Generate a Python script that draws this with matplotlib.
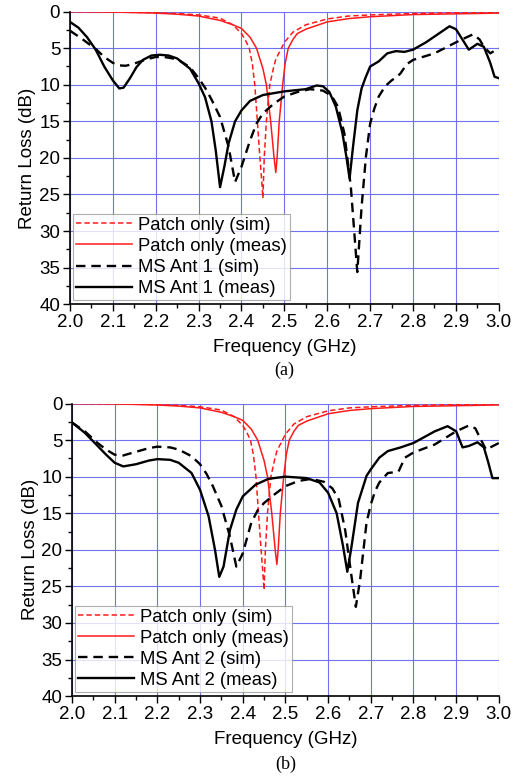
import numpy as np
import matplotlib
matplotlib.use("Agg")
import matplotlib.pyplot as plt
from matplotlib.ticker import MultipleLocator

plt.rcParams["font.family"] = ["Liberation Sans", "DejaVu Sans"]

# Patch only (same in both panels)
patch_sim_f = [2.0, 2.1, 2.2, 2.25, 2.3, 2.33, 2.35, 2.38, 2.40, 2.41, 2.418, 2.425, 2.431,
               2.437, 2.443, 2.447, 2.45, 2.453, 2.458, 2.466, 2.475, 2.48, 2.493, 2.50,
               2.52, 2.55, 2.6, 2.65, 2.7, 2.8, 2.9, 3.0]
patch_sim_rl = [0.0, 0.05, 0.15, 0.25, 0.45, 0.7, 0.9, 1.8, 3.0, 4.0, 5.0, 7.0, 10.0,
                15.0, 20.0, 23.0, 25.5, 20.0, 15.0, 10.0, 7.6, 6.5, 5.0, 4.2,
                2.8, 1.8, 1.0, 0.6, 0.45, 0.25, 0.15, 0.1]
patch_meas_f = [2.0, 2.1, 2.2, 2.25, 2.3, 2.35, 2.38, 2.40, 2.42, 2.435, 2.45, 2.458, 2.468,
                2.476, 2.48, 2.483, 2.488, 2.496, 2.502, 2.509, 2.52, 2.53, 2.55, 2.6,
                2.65, 2.7, 2.75, 2.8, 2.9, 3.0]
patch_meas_rl = [0.0, 0.05, 0.2, 0.35, 0.6, 1.2, 1.8, 2.3, 3.5, 5.0, 7.8, 10.0, 15.0,
                 20.0, 22.0, 20.0, 15.0, 10.0, 7.0, 5.0, 3.8, 3.0, 2.4, 1.4,
                 0.95, 0.7, 0.55, 0.4, 0.3, 0.2]

# MS Ant 1 (panel a)
ant1_sim_f = [2.0, 2.03, 2.062, 2.08, 2.1, 2.115, 2.13, 2.145, 2.16, 2.18, 2.2, 2.22, 2.25,
              2.28, 2.3, 2.315, 2.33, 2.35, 2.37, 2.385, 2.4, 2.42, 2.435, 2.45, 2.475,
              2.5, 2.53, 2.56, 2.59, 2.61, 2.625, 2.64, 2.655, 2.67, 2.68, 2.69, 2.7,
              2.71, 2.72, 2.735, 2.75, 2.76, 2.77, 2.785, 2.8, 2.85, 2.9, 2.925, 2.94,
              2.955, 2.965, 2.98, 3.0]
ant1_sim_rl = [2.6, 3.8, 5.2, 6.2, 7.0, 7.35, 7.4, 7.2, 6.9, 6.5, 6.2, 6.2, 6.5,
               7.6, 9.1, 10.4, 12.0, 14.4, 18.5, 23.3, 21.2, 17.6, 15.3, 13.9, 12.6,
               11.6, 11.0, 10.6, 10.8, 11.5, 13.0, 16.7, 24.0, 35.6, 26.7, 19.9, 15.3,
               13.2, 11.6, 10.2, 9.4, 9.0, 8.5, 7.2, 6.6, 5.7, 4.2, 3.5, 3.1,
               3.8, 4.8, 5.7, 5.0]
ant1_meas_f = [2.0, 2.02, 2.04, 2.06, 2.08, 2.1, 2.115, 2.125, 2.14, 2.155, 2.17, 2.19,
               2.21, 2.23, 2.25, 2.28, 2.3, 2.315, 2.33, 2.34, 2.35, 2.36, 2.37, 2.385,
               2.4, 2.42, 2.45, 2.5, 2.55, 2.575, 2.59, 2.605, 2.62, 2.635, 2.645, 2.652,
               2.66, 2.67, 2.68, 2.69, 2.7, 2.72, 2.74, 2.76, 2.78, 2.8, 2.83, 2.86, 2.885,
               2.9, 2.915, 2.93, 2.95, 2.965, 2.98, 2.99, 3.0]
ant1_meas_rl = [1.4, 2.2, 3.5, 5.2, 7.5, 9.4, 10.5, 10.4, 9.1, 7.6, 6.6, 6.0,
                5.9, 6.0, 6.4, 7.8, 9.8, 11.7, 15.0, 19.0, 24.0, 21.2, 18.0, 15.0,
                13.5, 12.2, 11.4, 10.9, 10.6, 10.1, 10.2, 11.0, 13.0, 16.5, 20.0, 22.8,
                18.5, 13.5, 10.5, 8.9, 7.5, 6.8, 5.7, 5.4, 5.5, 5.2, 4.2, 3.0, 2.0,
                2.4, 3.8, 5.2, 4.4, 4.8, 7.0, 8.9, 9.1]

# MS Ant 2 (panel b)
ant2_sim_f = [2.0, 2.03, 2.06, 2.08, 2.1, 2.12, 2.15, 2.18, 2.2, 2.23, 2.25, 2.28, 2.3,
              2.315, 2.33, 2.35, 2.37, 2.385, 2.4, 2.42, 2.435, 2.45, 2.475, 2.5, 2.53,
              2.56, 2.59, 2.61, 2.625, 2.64, 2.655, 2.665, 2.675, 2.69, 2.7, 2.71, 2.72,
              2.74, 2.755, 2.765, 2.78, 2.8, 2.85, 2.9, 2.93, 2.945, 2.955, 2.97, 3.0]
ant2_sim_rl = [2.6, 3.8, 5.4, 6.3, 7.0, 7.1, 6.6, 6.1, 5.9, 6.0, 6.3, 7.2, 8.3,
               9.6, 11.3, 14.0, 18.2, 22.3, 20.5, 16.3, 14.6, 13.6, 12.4, 11.3, 10.6,
               10.3, 10.7, 11.6, 13.1, 17.3, 23.7, 27.8, 24.1, 16.3, 13.8, 12.0, 10.8,
               9.5, 9.4, 9.3, 7.4, 6.7, 5.6, 3.8, 3.0, 3.4, 4.6, 6.3, 5.4]
ant2_meas_f = [2.0, 2.03, 2.06, 2.08, 2.1, 2.12, 2.15, 2.18, 2.2, 2.23, 2.25, 2.28, 2.3,
               2.32, 2.335, 2.345, 2.355, 2.37, 2.385, 2.4, 2.43, 2.46, 2.5, 2.55, 2.58,
               2.6, 2.62, 2.635, 2.645, 2.655, 2.67, 2.69, 2.7, 2.72, 2.74, 2.77, 2.8,
               2.85, 2.88, 2.9, 2.915, 2.93, 2.95, 2.965, 2.975, 2.985, 3.0]
ant2_meas_rl = [2.6, 4.0, 5.8, 7.0, 8.1, 8.6, 8.3, 7.8, 7.6, 7.7, 8.1, 9.5, 11.8,
                15.4, 20.0, 23.7, 22.3, 17.3, 14.5, 12.7, 11.1, 10.3, 10.0, 10.2, 10.8,
                12.2, 15.0, 19.5, 23.0, 19.5, 13.6, 9.9, 9.0, 7.4, 6.5, 6.0, 5.4,
                3.8, 3.1, 3.8, 6.0, 5.8, 5.3, 6.0, 8.0, 10.2, 10.2]

fig = plt.figure(figsize=(5.18, 7.76), dpi=100)
ax_a = fig.add_axes([0.135, 0.608, 0.828, 0.377])
ax_b = fig.add_axes([0.139, 0.103, 0.824, 0.377])

panels = [
    (ax_a, "MS Ant 1", ant1_sim_f, ant1_sim_rl, ant1_meas_f, ant1_meas_rl, "(a)", -0.225),
    (ax_b, "MS Ant 2", ant2_sim_f, ant2_sim_rl, ant2_meas_f, ant2_meas_rl, "(b)", -0.235),
]

for ax, name, sf, srl, mf, mrl, tag, tag_y in panels:
    ax.plot(patch_sim_f, patch_sim_rl, color="#ff1a1a", lw=1.1, ls=(0, (3.5, 2)),
            label="Patch only (sim)")
    ax.plot(patch_meas_f, patch_meas_rl, color="#ff1a1a", lw=1.1, label="Patch only (meas)")
    ax.plot(sf, srl, color="black", lw=1.7, ls=(0, (4, 2.5)), label=name + " (sim)")
    ax.plot(mf, mrl, color="black", lw=1.7, label=name + " (meas)")

    ax.set_xlim(2.0, 3.0)
    ax.set_ylim(40, 0)
    ax.xaxis.set_major_locator(MultipleLocator(0.1))
    ax.xaxis.set_minor_locator(MultipleLocator(0.05))
    ax.yaxis.set_major_locator(MultipleLocator(5))
    ax.yaxis.set_minor_locator(MultipleLocator(2.5))
    ax.xaxis.set_major_formatter(plt.FormatStrFormatter("%.1f"))
    ax.grid(True, which="major", color="#7070f0", lw=0.8)
    ax.set_axisbelow(True)
    ax.tick_params(which="major", direction="out", length=5, width=1, labelsize=13.5, pad=2)
    ax.tick_params(which="minor", direction="out", length=3, width=1)
    for s in ["top", "right"]:
        ax.spines[s].set_visible(False)
    ax.spines["left"].set_linewidth(1.2)
    ax.spines["bottom"].set_linewidth(1.2)
    ax.set_xlabel("Frequency (GHz)", fontsize=13.5, labelpad=6)
    ax.set_ylabel("Return Loss (dB)", fontsize=13.5, labelpad=2)
    leg = ax.legend(loc="lower left", bbox_to_anchor=(0.008, 0.015), fontsize=13.3,
                    frameon=True, fancybox=False, edgecolor="#999999",
                    handlelength=3.0, handletextpad=0.35, labelspacing=0.22,
                    borderpad=0.15, borderaxespad=0.0)
    leg.get_frame().set_linewidth(0.8)
    ax.text(0.5, tag_y, tag, transform=ax.transAxes, ha="center", va="center",
            fontsize=13, family=["Liberation Serif", "DejaVu Serif"])

fig.savefig("out.png", dpi=100)
